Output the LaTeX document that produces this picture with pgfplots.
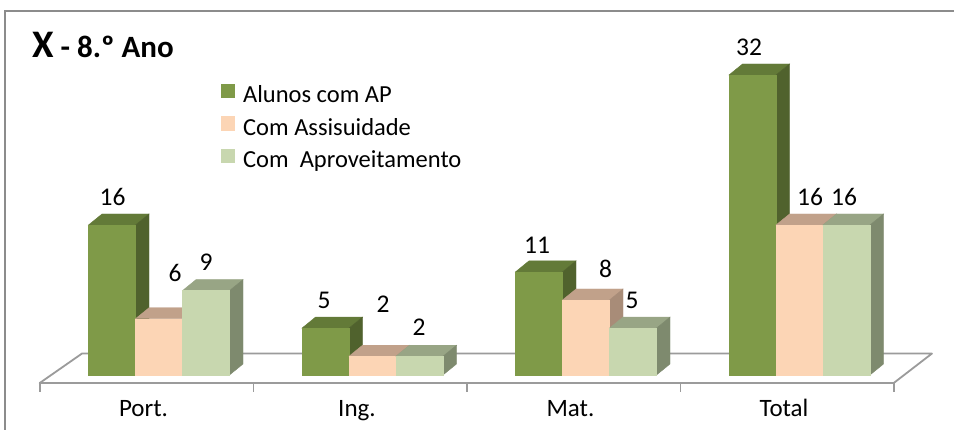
\documentclass[border=0pt]{standalone}
\usepackage{fontspec}
\setmainfont{Carlito}
\usepackage{pgfplots}
\pgfplotsset{compat=1.18}
\usepackage{pgfplotstable}

\definecolor{gFront}{RGB}{127,154,72}
\definecolor{gTop}{RGB}{99,122,56}
\definecolor{gSide}{RGB}{80,98,45}
\definecolor{pFront}{RGB}{252,213,181}
\definecolor{pTop}{RGB}{193,161,138}
\definecolor{pSide}{RGB}{168,140,120}
\definecolor{lFront}{RGB}{200,215,175}
\definecolor{lTop}{RGB}{152,165,133}
\definecolor{lSide}{RGB}{126,138,110}
\definecolor{floorcol}{RGB}{155,155,155}
\definecolor{framecol}{RGB}{140,140,140}

\pgfdeclareplotmark{nothing}{}

\pgfplotstableread{
x y lx ly
0 16 -34 28
1 5 -36 28
2 11 -36.5 27
3 32 -38 28
}\tabA
\pgfplotstableread{
x y lx ly
0 6 28.5 45.5
1 2 23 52
2 8 32 31.5
3 16 23 28
}\tabB
\pgfplotstableread{
x y lx ly
0 9 59.5 28
1 2 59 29.5
2 5 58.5 28
3 16 57 28
}\tabC

\newcommand\bw{47}
\newcommand\ddx{13.5}
\newcommand\ddy{11}
\newcommand\ulen{9.375}

\pgfplotsset{
  sqlegend/.style={legend image code/.code={\fill[##1] (0pt,-1.5pt) rectangle (14pt,13pt);}},
  frontbar/.style 2 args={ybar, bar width=\bw pt, bar shift=#1 pt, fill=#2, draw=none, forget plot},
  box3d/.style n args={4}{%
    only marks, mark=nothing, scatter, forget plot,
    visualization depends on={rawy \as \barval},
    scatter/@pre marker code/.code={%
      \begingroup
      \pgfkeys{/pgf/fpu=false}%
      \pgfmathsetmacro\hh{-\barval*\ulen}%
      \pgfmathsetmacro\L{#1-\bw/2}%
      \pgfmathsetmacro\R{#1+\bw/2}%
      \pgfmathsetmacro\Lb{\L+\ddx}%
      \pgfmathsetmacro\Rb{\R+\ddx}%
      \pgfmathsetmacro\Bb{\hh+\ddy}%
      \fill[#2] (\L pt,0pt) -- (\R pt,0pt) -- (\Rb pt,\ddy pt) -- (\Lb pt,\ddy pt) -- cycle;
      \fill[#3] (\R pt,0pt) -- (\Rb pt,\ddy pt) -- (\Rb pt,\Bb pt) -- (\R pt,\hh pt) -- cycle;
      \fill[#4] (\L pt,0pt) rectangle (\R pt,\hh pt);
      \endgroup
    },
    scatter/@post marker code/.code={},
  },
  barlabels/.style={
    only marks, mark=nothing, forget plot,
    point meta=y,
    visualization depends on={\thisrow{lx} \as \lx},
    visualization depends on={\thisrow{ly} \as \ly},
    nodes near coords,
    every node near coord/.append style={anchor=center, inner sep=0pt, xshift=\lx pt, yshift=\ly pt,
      font=\fontsize{25.5}{30}\selectfont, text=black},
  },
}

\begin{document}
\begin{tikzpicture}
\useasboundingbox (0pt,0pt) rectangle (954pt,430pt);
\fill[white] (0pt,0pt) rectangle (954pt,430pt);
\draw[framecol, line width=1.3pt] (5pt,-5pt) -- (5pt,419pt) -- (960pt,419pt);

\node[anchor=base west, inner sep=0pt] at (32pt,372pt)
  {\bfseries\fontsize{39}{39}\selectfont X\fontsize{31}{31}\selectfont\ - 8.º Ano};

\begin{axis}[
  at={(39.75pt,55pt)}, anchor=south west,
  x=213.5pt, y=\ulen pt,
  xmin=-0.5, xmax=3.5, ymin=0, ymax=36,
  clip=false,
  /pgf/number format/assume math mode=true,
  axis lines*=left,
  axis line style={draw=none},
  hide y axis,
  xtick={0,1,2,3},
  xticklabels={Port.,Ing.,Mat.,Total},
  major tick length=0pt,
  xtick style={draw=none},
  xticklabel style={anchor=base, xshift=-3pt, yshift=-42pt, font=\fontsize{25}{29}\selectfont},
  legend style={at={(0.2122,0.863)}, anchor=north west, draw=none, fill=none,
    inner sep=0pt, row sep=7.5pt,
    font=\fontsize{24.5}{29}\selectfont,
    nodes={inner sep=0pt, text height=18pt, text depth=6pt},
    /tikz/every odd column/.append style={column sep=8pt}},
  legend cell align=left,
]
% floor
\draw[floorcol, line width=1.8pt, line join=round]
  (axis cs:-0.5,-0.853) -- (axis cs:-0.302,2.29) -- (axis cs:3.679,2.29) -- (axis cs:3.5,-0.853) -- cycle;
\pgfplotsinvokeforeach{-0.5,0.5,1.5,2.5,3.5}{
  \draw[floorcol, line width=1.5pt] (axis cs:#1,-0.853) -- (axis cs:#1,-1.8);
}

\addplot[frontbar={-34.5}{gFront}] table[x=x,y=y] {\tabA};
\addplot[box3d={-34.5}{gTop}{gSide}{gFront}] table[x=x,y=y] {\tabA};
\addplot[frontbar={12.5}{pFront}] table[x=x,y=y] {\tabB};
\addplot[box3d={12.5}{pTop}{pSide}{pFront}] table[x=x,y=y] {\tabB};
\addplot[frontbar={59.5}{lFront}] table[x=x,y=y] {\tabC};
\addplot[box3d={59.5}{lTop}{lSide}{lFront}] table[x=x,y=y] {\tabC};

\addplot[barlabels] table[x=x,y=y] {\tabA};
\addplot[barlabels] table[x=x,y=y] {\tabB};
\addplot[barlabels] table[x=x,y=y] {\tabC};

\addlegendimage{sqlegend, fill=gFront, draw=none}
\addlegendentry{Alunos com AP}
\addlegendimage{sqlegend, fill=pFront, draw=none}
\addlegendentry{Com Assisuidade}
\addlegendimage{sqlegend, fill=lFront, draw=none}
\addlegendentry{Com\ \ Aproveitamento}
\end{axis}
\end{tikzpicture}
\end{document}
